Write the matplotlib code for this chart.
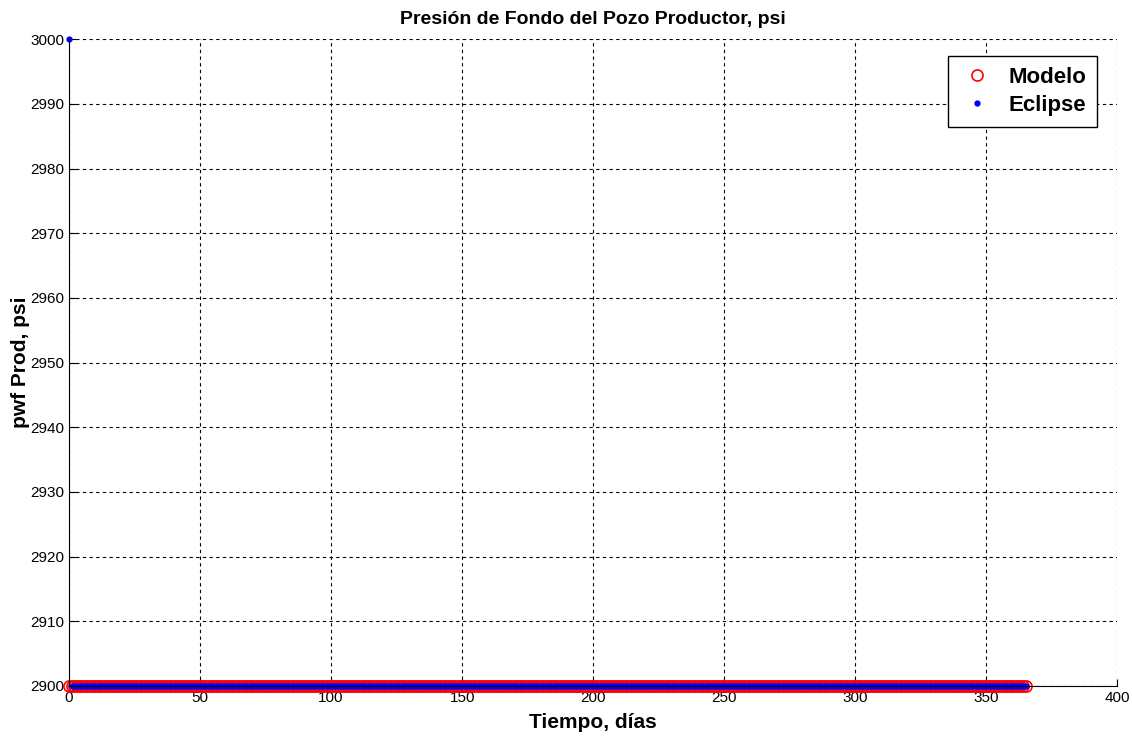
import numpy as np
import matplotlib
matplotlib.use('Agg')
import matplotlib.pyplot as plt

plt.rcParams['font.family'] = ['Liberation Sans', 'DejaVu Sans']

# daily report times (days) and bottom-hole pressure of the producer (psi)
tiempo = np.arange(0, 366, 1)
pwf_modelo = np.full(len(tiempo), 2900.0)
pwf_eclipse = np.full(len(tiempo), 2900.0)
pwf_eclipse[0] = 3000.0

fig = plt.figure(figsize=(11.32, 7.42), dpi=100)
ax = fig.add_axes([0.061, 0.0755, 0.926, 0.8715])

ax.plot(tiempo, pwf_modelo, 'o', color='red', markerfacecolor='none',
        markersize=8, markeredgewidth=1.2, label='Modelo', clip_on=False)
ax.plot(tiempo, pwf_eclipse, '.', color='blue', markersize=7,
        label='Eclipse', clip_on=False)

ax.set_xlim(0, 400)
ax.set_ylim(2900, 3000)
ax.set_xticks(np.arange(0, 401, 50))
ax.set_yticks(np.arange(2900, 3001, 10))
ax.grid(True, color='black', linestyle=(0, (3, 3)), linewidth=0.8)
ax.spines['top'].set_visible(False)
ax.spines['right'].set_visible(False)
ax.tick_params(direction='in', length=5, labelsize=11)

ax.set_title('Presión de Fondo del Pozo Productor, psi', fontweight='bold',
             fontsize=14, pad=11)
ax.set_xlabel('Tiempo, días', fontweight='bold', fontsize=15, labelpad=6)
ax.set_ylabel('pwf Prod, psi', fontweight='bold', fontsize=15)
ax.yaxis.set_label_coords(-0.037, 0.5)

leg = ax.legend(loc='upper right', bbox_to_anchor=(0.981, 0.974), borderaxespad=0,
                fancybox=False, edgecolor='black', framealpha=1,
                prop={'weight': 'bold', 'size': 16},
                handlelength=1.6, handletextpad=0.6, borderpad=0.5,
                labelspacing=0.3)
leg.get_frame().set_linewidth(1.0)

fig.savefig('out.png', dpi=100)
